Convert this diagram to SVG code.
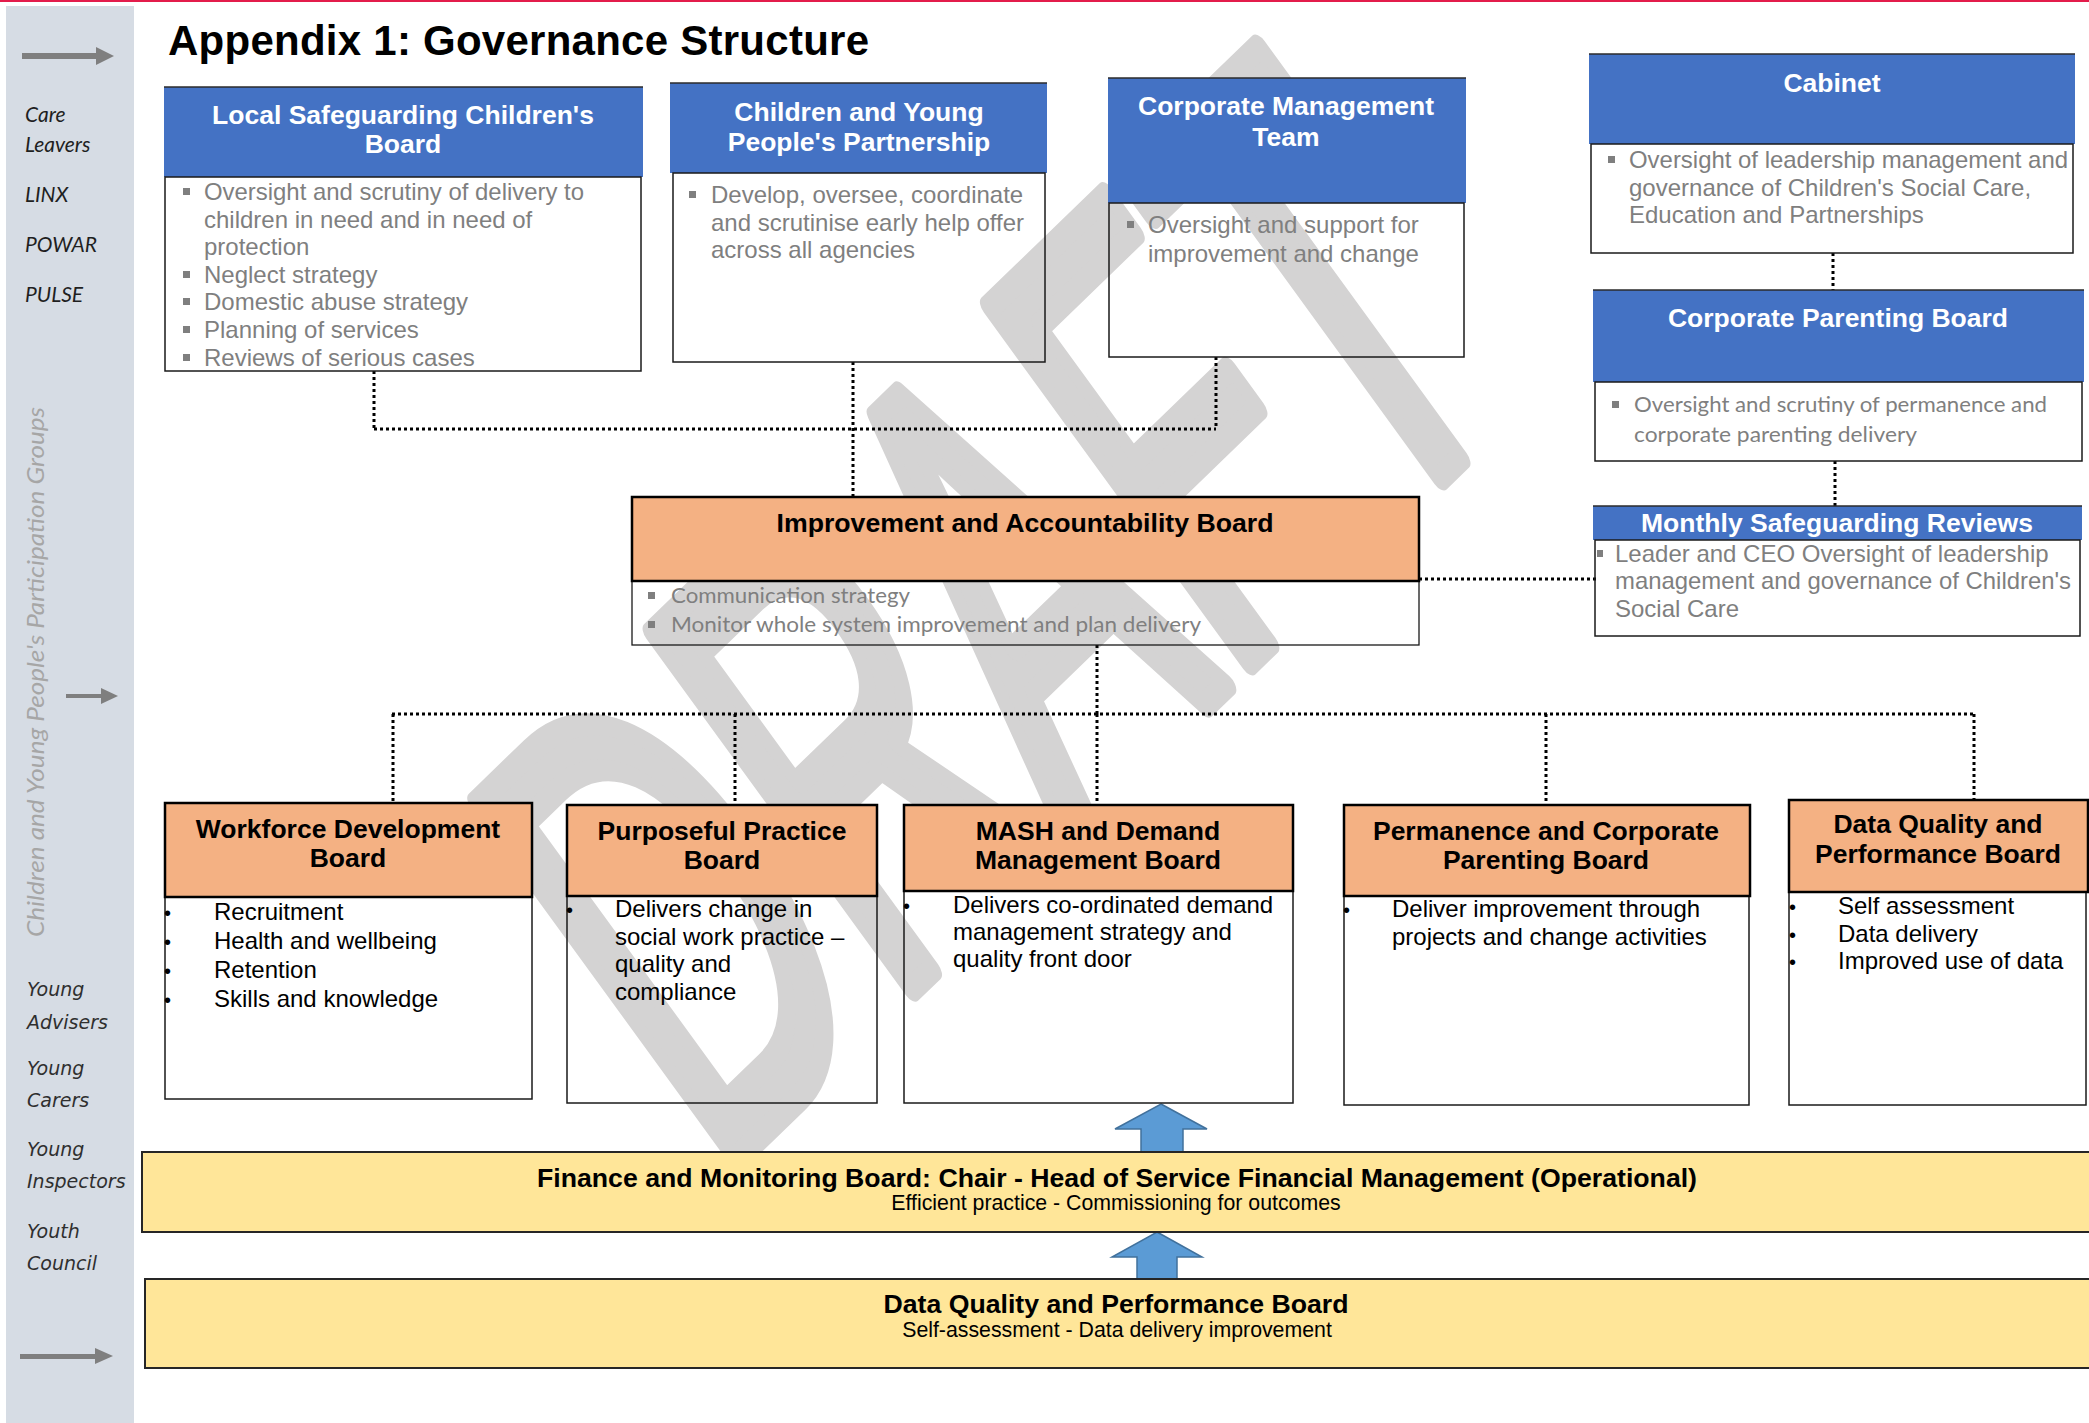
<svg xmlns="http://www.w3.org/2000/svg" width="2089" height="1423" viewBox="0 0 2089 1423">
<style>
.hb{fill:#4472c4}
.hl{stroke:#2b2b2b;stroke-width:1.5}
.ht{font-family:"Liberation Sans",Arial,sans-serif;font-weight:bold;font-size:26.5px;fill:#fff;text-anchor:middle}
.pk{fill:#f4b183;stroke:#000;stroke-width:2.5}
.pt{font-family:"Liberation Sans",Arial,sans-serif;font-weight:bold;font-size:26.5px;fill:#000;text-anchor:middle}
.bd{fill:none;stroke:#1a1a1a;stroke-width:1.5}
.gt{font-family:"Liberation Sans",Arial,sans-serif;font-size:24px;fill:#7f7f7f}
.ct{font-family:Lato,"Open Sans",sans-serif;font-size:22px;fill:#7f7f7f}
.kt{font-family:"Liberation Sans",Arial,sans-serif;font-size:24px;fill:#000}
.bl{font-family:"Liberation Sans",Arial,sans-serif;font-size:20px;fill:#000}
.sq{fill:#7f7f7f}
.dot{stroke:#000;stroke-width:3;stroke-dasharray:3 3;fill:none}
.yl{fill:#ffe699;stroke:#262626;stroke-width:2}
.ba{fill:#5b9bd5;stroke:#41719c;stroke-width:1.5}
.pl{font-family:Lato,"Open Sans",sans-serif;font-style:italic;font-size:21px;fill:#1f1f1f}
.pl2{font-family:"DejaVu Sans",Verdana,sans-serif;font-style:italic;font-size:19px;fill:#2f2f2f}
.ga{fill:#7f7f7f}
</style>
<rect x="0" y="0" width="2089" height="1423" fill="#fff"/>
<line x1="0" y1="1" x2="2089" y2="1" stroke="#e31c4b" stroke-width="2"/>

<!-- left panel -->
<g id="panel">
<rect x="6" y="6" width="128" height="1417" fill="#d6dce4"/>
<rect x="22" y="53" width="75" height="6" class="ga"/>
<polygon points="96,47 114,56 96,65" class="ga"/>
<rect x="66" y="694" width="37" height="4" class="ga"/>
<polygon points="101,688 118,696 101,704" class="ga"/>
<rect x="20" y="1354" width="76" height="5" class="ga"/>
<polygon points="95,1348 113,1356 95,1364" class="ga"/>
<text class="pl" x="25" y="122">Care</text>
<text class="pl" x="25" y="152">Leavers</text>
<text class="pl" x="25" y="202">LINX</text>
<text class="pl" x="25" y="252">POWAR</text>
<text class="pl" x="25" y="302">PULSE</text>
<text transform="translate(44,937) rotate(-90)" font-family="Lato,'Open Sans',sans-serif" font-style="italic" font-size="23" fill="#a6a6a6" textLength="530" lengthAdjust="spacingAndGlyphs">Children and Young People's Participation Groups</text>
<text class="pl2" x="27" y="996">Young</text>
<text class="pl2" x="27" y="1029">Advisers</text>
<text class="pl2" x="27" y="1075">Young</text>
<text class="pl2" x="27" y="1107">Carers</text>
<text class="pl2" x="27" y="1156">Young</text>
<text class="pl2" x="27" y="1188">Inspectors</text>
<text class="pl2" x="27" y="1238">Youth</text>
<text class="pl2" x="27" y="1270">Council</text>
</g>

<text x="168" y="55" font-family="Liberation Sans,Arial,sans-serif" font-weight="bold" font-size="42" fill="#000" textLength="701" lengthAdjust="spacing">Appendix 1: Governance Structure</text>

<!-- watermark -->
<g id="watermark" transform="translate(746,1150) scale(1,1.153) rotate(-40) scale(1,1.85)">
<text x="-40" y="0" font-family="Liberation Sans,Arial,sans-serif" font-size="317" fill="#d4d3d3" stroke="#d4d3d3" stroke-width="20" stroke-linejoin="round" vector-effect="non-scaling-stroke" style="vector-effect:non-scaling-stroke">DRAFT</text>
</g>

<!-- connectors -->
<g id="connectors">
<path class="dot" d="M374,371 V429 M853,362 V497 M1216,357 V429 M374,429 H1216"/>
<path class="dot" d="M1419,579 H1596 M1833,253 V290 M1835,461 V506"/>
<path class="dot" d="M1097,645 V714 M392,714 H1975 M393,714 V803 M735,714 V805 M1097,714 V805 M1546,714 V805 M1974,714 V800"/>
<polygon class="ba" points="1161,1104 1207,1129 1183,1129 1183,1152 1141,1152 1141,1129 1115,1129"/>
<polygon class="ba" points="1157,1232 1202,1257 1177,1257 1177,1280 1137,1280 1137,1257 1112,1257"/>
</g>

<g id="lscb">
<rect x="164" y="87" width="479" height="90" class="hb"/>
<line x1="164" y1="87" x2="643" y2="87" class="hl"/>
<rect x="165" y="177" width="476" height="194" class="bd"/>
<text class="ht" x="403" y="124">Local Safeguarding Children's</text>
<text class="ht" x="403" y="153">Board</text>
<rect x="183" y="188" width="7" height="7" class="sq"/>
<text class="gt" x="204" y="200" textLength="380" lengthAdjust="spacingAndGlyphs">Oversight and scrutiny of delivery to</text>
<text class="gt" x="204" y="227.5">children in need and in need of</text>
<text class="gt" x="204" y="255">protection</text>
<rect x="183" y="271" width="7" height="7" class="sq"/>
<text class="gt" x="204" y="283">Neglect strategy</text>
<rect x="183" y="298" width="7" height="7" class="sq"/>
<text class="gt" x="204" y="310">Domestic abuse strategy</text>
<rect x="183" y="326" width="7" height="7" class="sq"/>
<text class="gt" x="204" y="338">Planning of services</text>
<rect x="183" y="354" width="7" height="7" class="sq"/>
<text class="gt" x="204" y="366">Reviews of serious cases</text>
</g>

<g id="cypp">
<rect x="670" y="83" width="377" height="90" class="hb"/>
<line x1="670" y1="83" x2="1047" y2="83" class="hl"/>
<rect x="673" y="173" width="372" height="189" class="bd"/>
<text class="ht" x="859" y="121">Children and Young</text>
<text class="ht" x="859" y="151">People's Partnership</text>
<rect x="689" y="191" width="7" height="7" class="sq"/>
<text class="gt" x="711" y="203">Develop, oversee, coordinate</text>
<text class="gt" x="711" y="231">and scrutinise early help offer</text>
<text class="gt" x="711" y="258">across all agencies</text>
</g>

<g id="cmt">
<rect x="1108" y="78" width="358" height="125" class="hb"/>
<line x1="1108" y1="78" x2="1466" y2="78" class="hl"/>
<rect x="1109" y="203" width="355" height="154" class="bd"/>
<text class="ht" x="1286" y="115">Corporate Management</text>
<text class="ht" x="1286" y="146">Team</text>
<rect x="1127" y="221" width="7" height="7" class="sq"/>
<text class="gt" x="1148" y="233">Oversight and support for</text>
<text class="gt" x="1148" y="262">improvement and change</text>
</g>

<g id="cabinet">
<rect x="1589" y="54" width="486" height="90" class="hb"/>
<line x1="1589" y1="54" x2="2075" y2="54" class="hl"/>
<rect x="1591" y="144" width="482" height="109" class="bd"/>
<text class="ht" x="1832" y="92">Cabinet</text>
<rect x="1608" y="156" width="7" height="7" class="sq"/>
<text class="gt" x="1629" y="168" textLength="439" lengthAdjust="spacingAndGlyphs">Oversight of leadership management and</text>
<text class="gt" x="1629" y="196">governance of Children's Social Care,</text>
<text class="gt" x="1629" y="223">Education and Partnerships</text>
</g>

<g id="cpb">
<rect x="1593" y="290" width="491" height="92" class="hb"/>
<line x1="1593" y1="290" x2="2084" y2="290" class="hl"/>
<rect x="1595" y="382" width="487" height="79" class="bd"/>
<text class="ht" x="1838" y="327">Corporate Parenting Board</text>
<rect x="1612" y="401" width="7" height="7" class="sq"/>
<text class="ct" x="1634" y="412" textLength="413" lengthAdjust="spacingAndGlyphs">Oversight and scrutiny of permanence and</text>
<text class="ct" x="1634" y="442" textLength="283" lengthAdjust="spacingAndGlyphs">corporate parenting delivery</text>
</g>

<g id="msr">
<rect x="1593" y="506" width="489" height="34" class="hb"/>
<line x1="1593" y1="506" x2="2082" y2="506" class="hl"/>
<rect x="1595" y="540" width="485" height="96" class="bd"/>
<text class="ht" x="1837" y="532" textLength="392" lengthAdjust="spacingAndGlyphs">Monthly Safeguarding Reviews</text>
<rect x="1597" y="550" width="6" height="7" class="sq"/>
<text class="gt" x="1615" y="562">Leader and CEO Oversight of leadership</text>
<text class="gt" x="1615" y="589" textLength="456" lengthAdjust="spacingAndGlyphs">management and governance of Children's</text>
<text class="gt" x="1615" y="617">Social Care</text>
</g>

<g id="iab">
<rect x="632" y="581" width="787" height="64" fill="none" stroke="#1a1a1a" stroke-width="1.3"/>
<rect x="632" y="497" width="787" height="84" class="pk"/>
<text class="pt" x="1025" y="532" textLength="497" lengthAdjust="spacingAndGlyphs">Improvement and Accountability Board</text>
<rect x="648" y="592" width="7" height="7" class="sq"/>
<text class="ct" x="671" y="603" textLength="239" lengthAdjust="spacingAndGlyphs">Communication strategy</text>
<rect x="648" y="621" width="7" height="7" class="sq"/>
<text class="ct" x="671" y="632" textLength="530" lengthAdjust="spacingAndGlyphs">Monitor whole system improvement and plan delivery</text>
</g>

<g id="wdb">
<rect x="165" y="897" width="367" height="202" class="bd"/>
<rect x="165" y="803" width="367" height="94" class="pk"/>
<text class="pt" x="348" y="838">Workforce Development</text>
<text class="pt" x="348" y="867">Board</text>
<text class="bl" x="164" y="920">•</text><text class="kt" x="214" y="920">Recruitment</text>
<text class="bl" x="164" y="949">•</text><text class="kt" x="214" y="949">Health and wellbeing</text>
<text class="bl" x="164" y="978">•</text><text class="kt" x="214" y="978">Retention</text>
<text class="bl" x="164" y="1007">•</text><text class="kt" x="214" y="1007">Skills and knowledge</text>
</g>

<g id="ppb">
<rect x="567" y="896" width="310" height="207" class="bd"/>
<rect x="567" y="805" width="310" height="91" class="pk"/>
<text class="pt" x="722" y="840">Purposeful Practice</text>
<text class="pt" x="722" y="869">Board</text>
<text class="bl" x="566" y="917">•</text>
<text class="kt" x="615" y="917">Delivers change in</text>
<text class="kt" x="615" y="945">social work practice –</text>
<text class="kt" x="615" y="972">quality and</text>
<text class="kt" x="615" y="1000">compliance</text>
</g>

<g id="mash">
<rect x="904" y="891" width="389" height="212" class="bd"/>
<rect x="904" y="805" width="389" height="86" class="pk"/>
<text class="pt" x="1098" y="840">MASH and Demand</text>
<text class="pt" x="1098" y="869">Management Board</text>
<text class="bl" x="903" y="913">•</text>
<text class="kt" x="953" y="913">Delivers co-ordinated demand</text>
<text class="kt" x="953" y="940">management strategy and</text>
<text class="kt" x="953" y="967">quality front door</text>
</g>

<g id="pcpb">
<rect x="1344" y="896" width="405" height="209" class="bd"/>
<rect x="1344" y="805" width="406" height="91" class="pk"/>
<text class="pt" x="1546" y="840">Permanence and Corporate</text>
<text class="pt" x="1546" y="869">Parenting Board</text>
<text class="bl" x="1343" y="917">•</text>
<text class="kt" x="1392" y="917">Deliver improvement through</text>
<text class="kt" x="1392" y="945">projects and change activities</text>
</g>

<g id="dqpb">
<rect x="1789" y="892" width="297" height="213" class="bd"/>
<rect x="1789" y="800" width="299" height="92" class="pk"/>
<text class="pt" x="1938" y="833">Data Quality and</text>
<text class="pt" x="1938" y="863">Performance Board</text>
<text class="bl" x="1789" y="914">•</text><text class="kt" x="1838" y="914">Self assessment</text>
<text class="bl" x="1789" y="942">•</text><text class="kt" x="1838" y="942">Data delivery</text>
<text class="bl" x="1789" y="969">•</text><text class="kt" x="1838" y="969">Improved use of data</text>
</g>

<g id="finance">
<rect x="142" y="1152" width="1952" height="80" class="yl"/>
<text class="pt" x="1117" y="1187" textLength="1160" lengthAdjust="spacingAndGlyphs">Finance and Monitoring Board: Chair - Head of Service Financial Management (Operational)</text>
<text x="1116" y="1210" font-family="Liberation Sans,Arial,sans-serif" font-size="21.3" text-anchor="middle" fill="#000">Efficient practice - Commissioning for outcomes</text>
</g>

<g id="dq2">
<rect x="145" y="1279" width="1949" height="89" class="yl"/>
<text class="pt" x="1116" y="1313" textLength="465" lengthAdjust="spacingAndGlyphs">Data Quality and Performance Board</text>
<text x="1117" y="1337" font-family="Liberation Sans,Arial,sans-serif" font-size="21.3" text-anchor="middle" fill="#000">Self-assessment - Data delivery improvement</text>
</g>
</svg>
